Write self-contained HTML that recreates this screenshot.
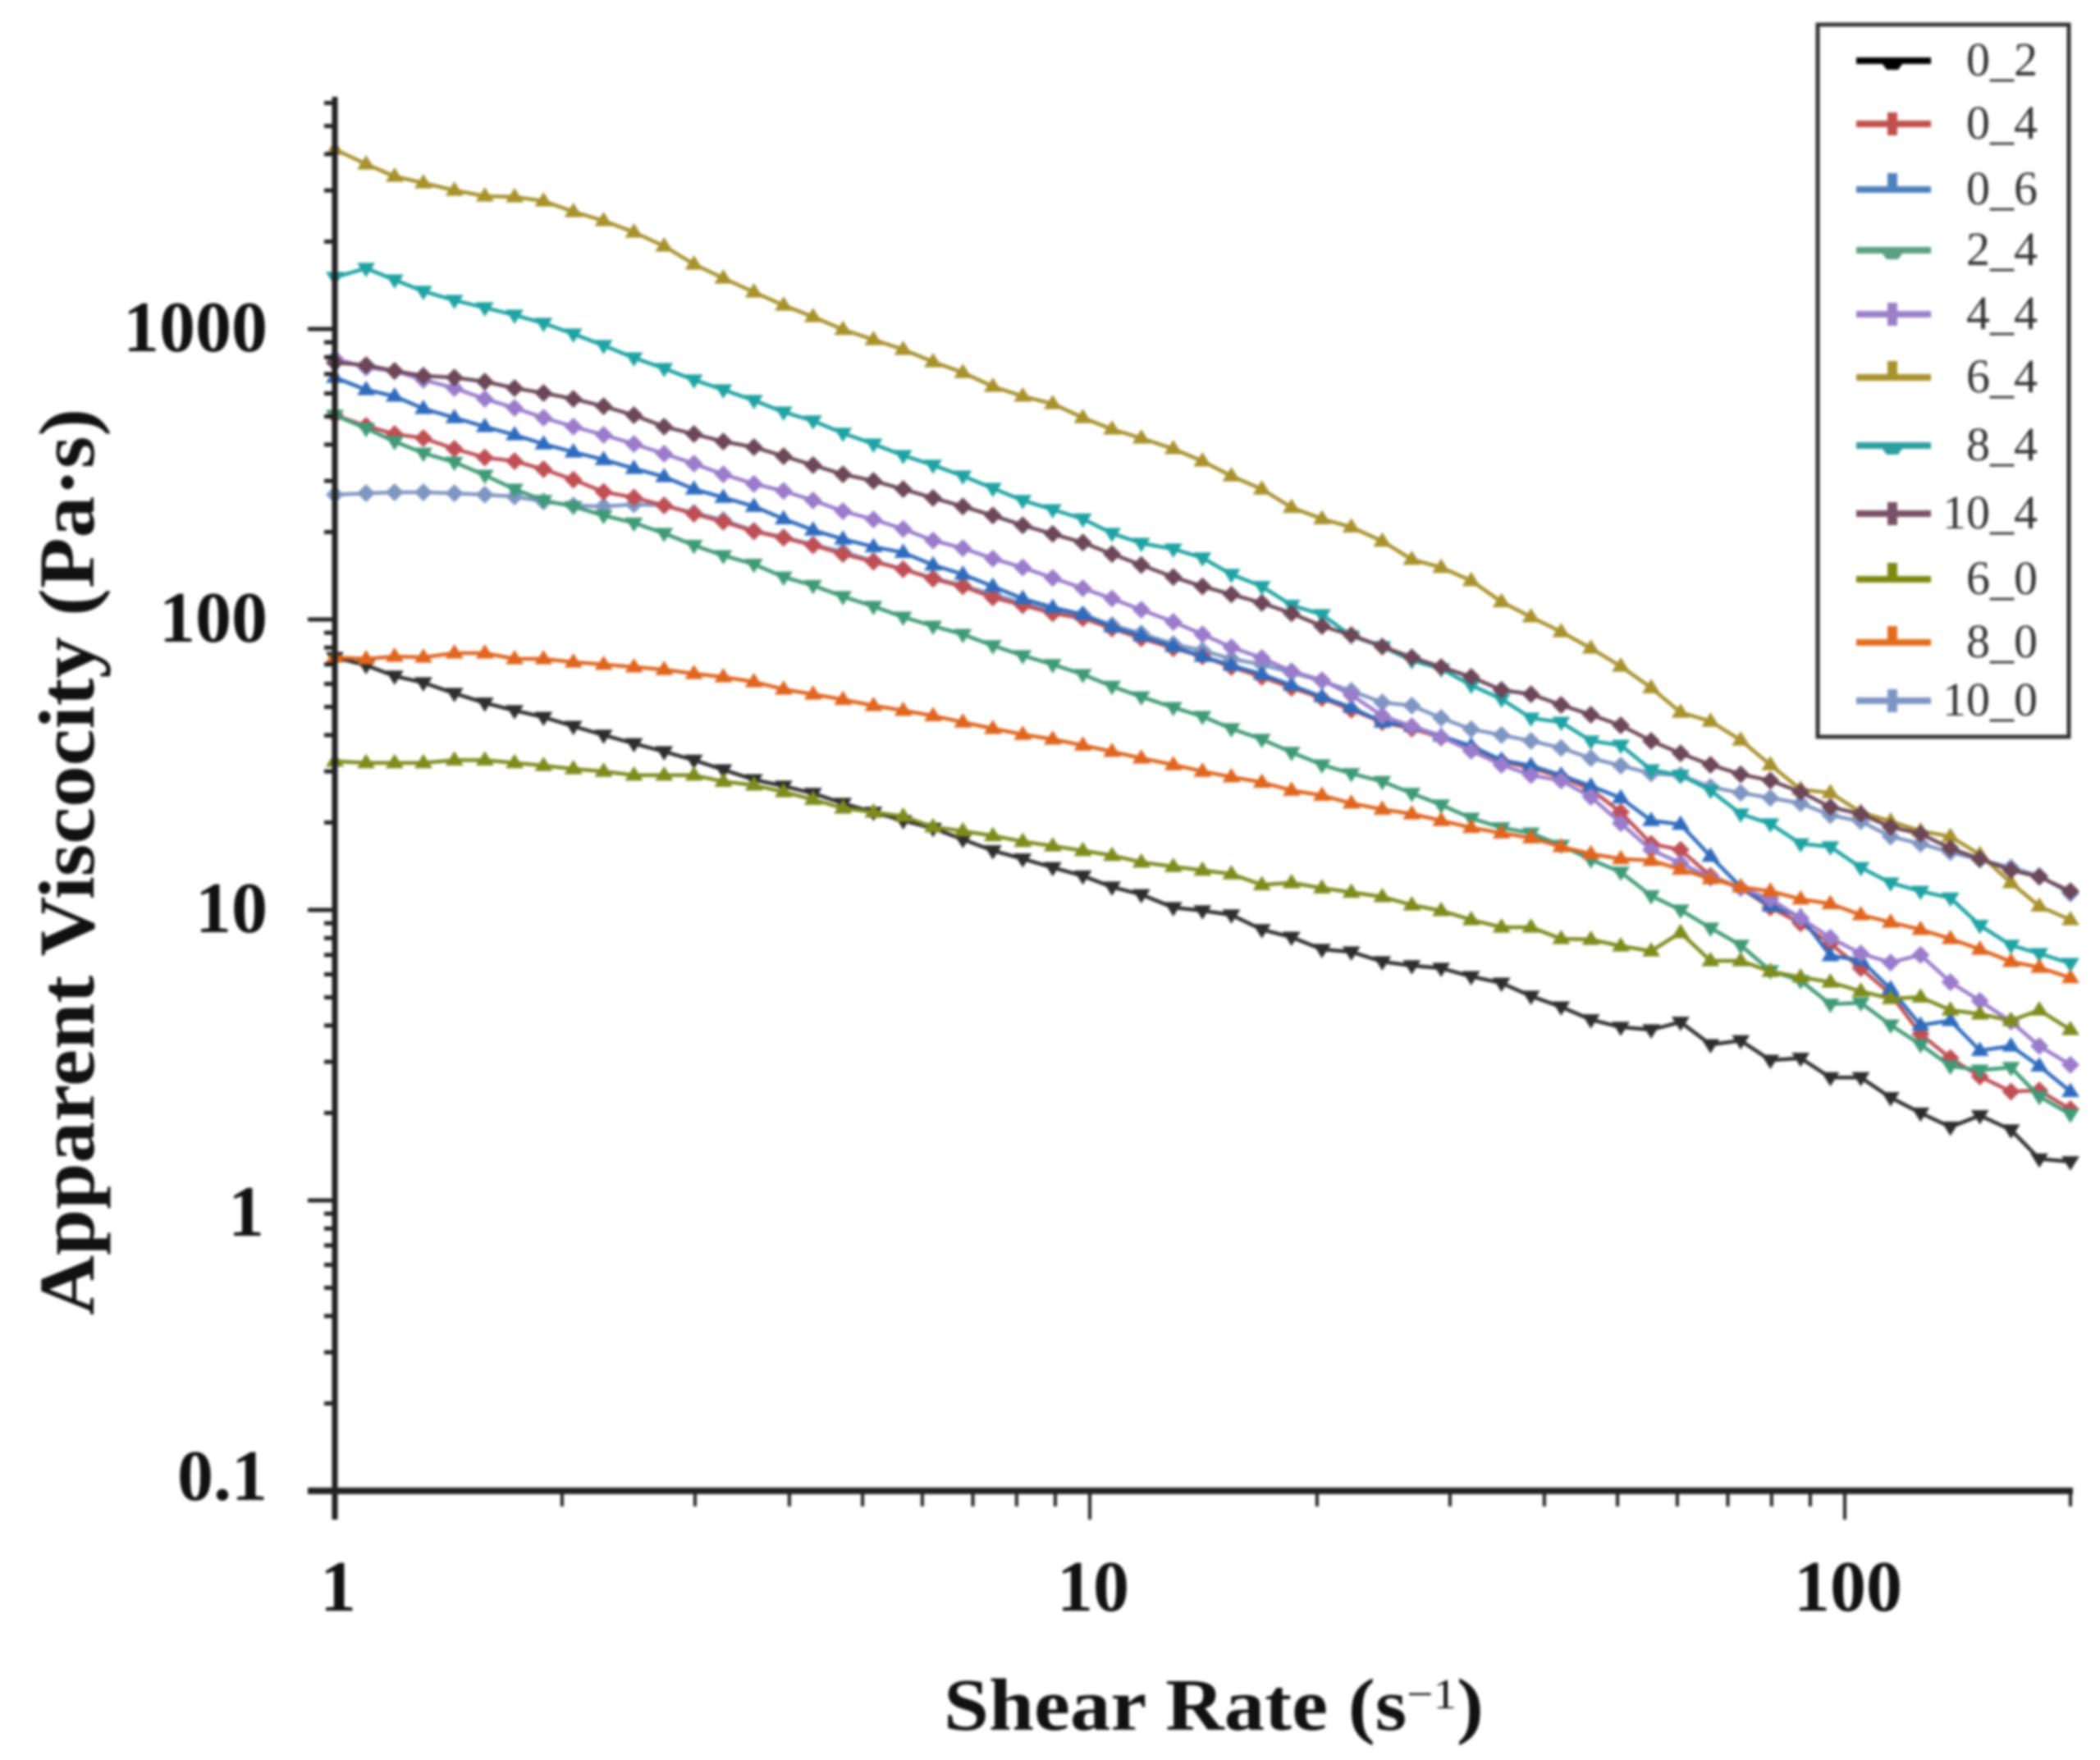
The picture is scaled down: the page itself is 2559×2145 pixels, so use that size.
<!DOCTYPE html>
<html lang="en">
<head>
<meta charset="utf-8">
<title>Apparent Viscosity vs Shear Rate</title>
<style>
html,body{margin:0;padding:0;background:#fff;width:2559px;height:2145px;overflow:hidden}
svg{display:block;filter:blur(1.5px)}
text{font-family:"Liberation Serif",serif}
</style>
</head>
<body>
<svg id="chart" xmlns="http://www.w3.org/2000/svg" width="2559" height="2145" viewBox="0 0 2559 2145">
  <rect width="2559" height="2145" fill="#fff"/>
  <g id="series-layer"></g>
  <g id="axis-layer"></g>
  <text transform="translate(114,1603) rotate(-90)" font-size="96" font-weight="700" fill="#111" textLength="1105" lengthAdjust="spacingAndGlyphs">Apparent Viscocity (Pa·s)</text>
  <text x="1150" y="2108" font-size="90" font-weight="700" fill="#111" textLength="658" lengthAdjust="spacingAndGlyphs">Shear Rate (s<tspan font-size="52" font-weight="400" dy="-26">−1</tspan><tspan dy="26">)</tspan></text>
  <g id="legend">
    <rect x="2215" y="30" width="306" height="868" fill="#fff" stroke="#333" stroke-width="5"/>
  </g>
</svg>
<script>
const shearRates = [1,1.10,1.20,1.31,1.44,1.58,1.73,1.89,2.07,2.27,2.49,2.73,2.99,3.27,3.59,3.93,4.30,4.71,5.17,5.66,6.20,6.79,7.44,8.15,8.93,9.79,10.7,11.7,12.9,14.1,15.4,16.9,18.5,20.3,22.2,24.4,26.7,29.2,32.0,35.1,38.4,42.1,46.1,50.5,55.4,60.6,66.4,72.8,79.7,87.4,95.7,105,115,126,138,151,166,181,199];

const viscosity0_2 = [74.1,69.5,63.9,60.6,55.7,51.6,48.6,46.1,42.9,40.0,37.4,35.1,32.8,30.4,28.1,26.7,25.2,23.3,21.7,20.3,19.1,17.5,16.0,15.0,14.0,13.1,12.0,11.3,10.2,9.94,9.62,8.56,8.06,7.32,7.17,6.64,6.43,6.30,5.90,5.60,5.05,4.64,4.19,3.95,3.87,4.11,3.44,3.55,3.04,3.09,2.65,2.65,2.26,2.00,1.79,1.96,1.75,1.39,1.36];
const viscosity0_4 = [505,464,435,421,387,361,351,329,303,275,263,247,231,217,201,191,180,168,158,149,138,130,119,112,105,101,93.1,86.1,79.6,74.6,68.6,63.4,58.2,53.6,48.9,44.3,42.1,39.2,36.1,32.5,30.8,28.7,26.0,21.7,16.9,16.1,13.1,11.9,10.2,9.00,7.66,6.30,5.13,3.74,3.09,2.67,2.37,2.39,2.06];
const viscosity0_6 = [681,618,587,532,495,461,432,402,377,355,331,310,281,263,245,222,203,189,178,170,154,143,130,118,110,104,94.3,87.8,80.7,74.6,69.5,64.7,59.4,54.2,49.8,44.3,42.9,39.7,36.7,32.8,31.4,29.1,26.7,24.3,20.3,19.7,15.3,12.0,10.3,9.49,6.95,6.72,5.35,4.01,4.16,3.28,3.40,2.90,2.37];
const viscosity2_4 = [505,455,410,374,348,314,281,257,245,228,215,198,180,166,155,140,131,120,111,102,94.9,88.9,81.3,75.1,70.0,64.7,58.9,54.2,49.8,46.4,42.1,38.7,34.9,31.6,29.5,27.7,25.2,23.0,20.7,19.2,18.4,16.7,14.9,13.5,11.2,10.0,8.67,7.56,6.18,5.71,4.74,4.79,4.02,3.44,2.90,2.81,2.87,2.28,1.98];
const viscosity4_4 = [791,737,717,668,626,575,535,495,461,432,402,372,344,316,293,277,257,236,221,205,187,176,162,151,139,128,118,108,98.1,88.9,80.2,73.7,66.4,61.8,55.0,46.6,42.9,39.4,35.3,31.6,29.1,27.9,24.5,19.9,16.1,14.5,12.9,11.9,10.9,9.37,8.02,7.08,6.59,7.00,5.64,4.86,4.13,3.40,2.93];
const viscosity6_4 = [4155,3697,3353,3182,3002,2869,2850,2759,2535,2360,2154,1929,1672,1497,1340,1207,1102,996,919,850,771,708,634,587,553,495,452,421,387,351,312,281,243,222,208,186,161,151,136,115,102,90.7,79.6,69.0,58.2,47.9,44.6,38.4,31.6,26.0,25.3,21.7,20.2,18.7,17.9,15.5,12.4,10.3,9.25];
const viscosity8_4 = [1507,1618,1477,1349,1256,1184,1117,1047,962,878,796,732,668,618,568,518,483,438,402,367,340,312,283,257,239,222,198,183,175,163,143,130,112,104,87.8,80.7,72.2,67.7,59.4,53.2,45.8,44.3,38.2,36.9,30.4,29.1,25.8,21.4,19.8,16.9,16.5,14.0,12.4,11.6,11.0,8.85,7.56,7.08,6.55];
const viscosity10_4 = [766,751,717,690,681,659,626,602,575,542,505,461,435,410,392,365,340,316,300,281,262,245,228,211,197,184,168,154,140,130,122,114,105,94.9,88.4,80.7,74.1,68.6,63.4,57.2,55.3,50.8,47.0,43.2,38.2,34.6,31.6,29.3,27.9,25.5,22.6,21.4,19.3,18.3,16.3,15.0,13.7,13.0,11.6];
const viscosity6_0 = [32.5,32.1,32.1,32.1,32.8,32.8,32.1,31.4,30.6,30.0,29.1,29.1,29.1,27.7,26.9,25.5,24.0,22.4,21.7,21.0,19.3,18.7,18.0,17.2,16.6,16.0,15.4,14.6,14.1,13.7,13.3,12.2,12.4,11.9,11.5,11.1,10.4,9.94,9.25,8.72,8.72,7.96,7.91,7.51,7.22,8.35,6.68,6.68,6.14,5.87,5.64,5.25,4.95,5.01,4.52,4.38,4.16,4.52,3.87];
const viscosity8_0 = [74.1,73.2,74.6,74.1,76.6,76.6,73.2,73.2,71.3,70.0,68.6,67.2,65.1,63.4,61.0,57.5,55.3,53.0,50.5,48.6,46.6,44.3,42.1,40.2,38.7,36.9,35.1,33.3,31.6,30.0,28.7,27.5,25.8,24.8,23.3,22.2,21.4,20.3,19.2,18.4,17.7,16.5,15.6,15.0,14.8,13.8,12.8,12.0,11.6,10.9,10.5,9.62,9.07,8.56,7.96,7.32,6.64,6.34,5.84];
const viscosity10_0 = [269,272,274,274,272,269,265,255,247,245,249,247,233,220,202,192,181,171,159,149,139,131,122,114,107,104,95.6,89.5,82.3,78.2,73.2,70.0,65.6,61.4,56.8,51.8,50.5,45.8,41.9,40.0,38.2,36.1,33.3,31.4,29.5,29.1,26.5,25.3,24.3,23.3,21.2,20.2,17.9,16.9,15.8,14.9,14.0,13.1,11.4];

const seriesNames = ["0_2","0_4","0_6","2_4","4_4","6_4","8_4","10_4","6_0","8_0","10_0"];
const seriesValues = [viscosity0_2,viscosity0_4,viscosity0_6,viscosity2_4,viscosity4_4,viscosity6_4,viscosity8_4,viscosity10_4,viscosity6_0,viscosity8_0,viscosity10_0];
const drawOrder = ["10_0","0_2","0_4","0_6","2_4","4_4","6_4","8_4","10_4","6_0","8_0"];
const lineColors = {"0_2":"#2e2e2e","0_4":"#bf4f55","0_6":"#2f6bbd","2_4":"#3f9a78","4_4":"#9a7ccb","6_4":"#a8922c","8_4":"#1fa3a3","10_4":"#6c4757","6_0":"#7d8c1c","8_0":"#e0651f","10_0":"#7f96c2"};
const legendColors = {"0_2":"#000000","0_4":"#c0504d","0_6":"#4f81bd","2_4":"#5aa083","4_4":"#9b80c8","6_4":"#a8922c","8_4":"#2f9e9e","10_4":"#7a5065","6_0":"#7d8a10","8_0":"#e36c1c","10_0":"#7f96c5"};
const markerKinds = {"0_2":"down","0_4":"diamond","0_6":"up","2_4":"down","4_4":"diamond","6_4":"up","8_4":"down","10_4":"diamond","6_0":"up","8_0":"up","10_0":"diamond"};

const yMajorTicks = [1000,100,10,1,0.1];
const yMajorLabels = ["1000","100","10","1","0.1"];
const yMinorTicks = [6000,5000,4000,3000,2000,900,800,700,600,500,400,300,200,90,80,70,60,50,40,30,20,9,8,7,6,5,4,3,2,0.9,0.8,0.7,0.6,0.5,0.4,0.3,0.2];
const xMajorTicks = [1,10,100];
const xMajorLabels = ["1","10","100"];
const xMinorTicks = [2,3,4,5,6,7,8,9,20,30,40,50,60,70,80,90,199];

const SVGNS = "http://www.w3.org/2000/svg";
function xScale(v){ return 408 + 920 * Math.log10(v); }
function yScale(v){ return 401 + 354 * (3 - Math.log10(v)); }
function yLabelNudge(v){
  if (v === 1) return 16;
  if (v === 0.1) return -16;
  return 0;
}

function markerPath(cx, cy, kind, r){
  if (kind === "down") return "M"+(cx-r)+" "+(cy-r*0.6)+"L"+(cx+r)+" "+(cy-r*0.6)+"L"+cx+" "+(cy+r)+"Z";
  if (kind === "up") return "M"+(cx-r)+" "+(cy+r*0.6)+"L"+(cx+r)+" "+(cy+r*0.6)+"L"+cx+" "+(cy-r)+"Z";
  return "M"+cx+" "+(cy-r)+"L"+(cx+r)+" "+cy+"L"+cx+" "+(cy+r)+"L"+(cx-r)+" "+cy+"Z";
}
function legendMarkerPath(cx, cy, kind){
  if (kind === "down") return "M"+(cx-15)+" "+cy+"L"+(cx+15)+" "+cy+"L"+(cx+7)+" "+(cy+11)+"L"+(cx-7)+" "+(cy+11)+"Z";
  if (kind === "up") return "M"+(cx-6)+" "+cy+"L"+(cx+6)+" "+cy+"L"+(cx+6)+" "+(cy-20)+"L"+(cx-6)+" "+(cy-20)+"Z";
  return "M"+(cx-6)+" "+(cy-14)+"L"+(cx+6)+" "+(cy-14)+"L"+(cx+6)+" "+(cy+14)+"L"+(cx-6)+" "+(cy+14)+"Z";
}

const seriesLayer = document.getElementById("series-layer");
drawOrder.forEach(function(name){
  const values = seriesValues[seriesNames.indexOf(name)];
  const group = document.createElementNS(SVGNS, "g");
  
  
  const line = document.createElementNS(SVGNS, "path");
  
  
  let d = "";
  values.forEach(function(v, i){
    d += (i ? "L" : "M") + xScale(shearRates[i]).toFixed(1) + " " + yScale(v).toFixed(1);
  });
  line.setAttribute("d", d);
  line.setAttribute("fill", "none");
  line.setAttribute("stroke", lineColors[name]);
  line.setAttribute("stroke-width", "4.5");
  line.setAttribute("stroke-linejoin", "round");
  group.appendChild(line);
  values.forEach(function(v, i){
    const mark = document.createElementNS(SVGNS, "path");
    
    
    mark.setAttribute("d", markerPath(xScale(shearRates[i]), yScale(v), markerKinds[name], 11));
    mark.setAttribute("fill", lineColors[name]);
    group.appendChild(mark);
  });
  seriesLayer.appendChild(group);
});

const axisLayer = document.getElementById("axis-layer");
function addLine(x1, y1, x2, y2, w, name){
  const el = document.createElementNS(SVGNS, "line");
  
  
  el.setAttribute("x1", x1);
  el.setAttribute("y1", y1);
  el.setAttribute("x2", x2);
  el.setAttribute("y2", y2);
  el.setAttribute("stroke", "#222");
  el.setAttribute("stroke-width", w);
  axisLayer.appendChild(el);
}
function addText(x, y, str, size, weight, anchor, parent, name, fill){
  const el = document.createElementNS(SVGNS, "text");
  
  
  el.setAttribute("x", x);
  el.setAttribute("y", y);
  el.setAttribute("font-size", size);
  el.setAttribute("font-weight", weight);
  el.setAttribute("text-anchor", anchor);
  el.setAttribute("fill", fill);
  el.textContent = str;
  parent.appendChild(el);
}
addLine(408, 118, 408, 1852, 7, "y-axis-line");
addLine(375, 1817, 2526, 1817, 8, "x-axis-line");
yMajorTicks.forEach(function(v, i){
  addLine(375, yScale(v), 408, yScale(v), 5, "y-major-tick");
  addText(v === 1 ? 322 : 326, yScale(v) + 27 + yLabelNudge(v), yMajorLabels[i], 88, 700, "end", axisLayer, "y-tick-label", "#111");
});
yMinorTicks.forEach(function(v){
  addLine(395, yScale(v), 408, yScale(v), 5, "y-minor-tick");
});
xMajorTicks.forEach(function(v, i){
  addLine(xScale(v), 1817, xScale(v), 1852, 4, "x-major-tick");
  addText(xScale(v) + 4, 1963, xMajorLabels[i], 88, 700, "middle", axisLayer, "x-tick-label", "#111");
});
xMinorTicks.forEach(function(v){
  addLine(xScale(v), 1817, xScale(v), 1836, 4, "x-minor-tick");
});

const legend = document.getElementById("legend");
const legendRowY = [74,151,231,305,383,460,543,626,706,783,854];
seriesNames.forEach(function(name, i){
  const rowY = legendRowY[i];
  const sw = document.createElementNS(SVGNS, "line");
  
  
  sw.setAttribute("x1", 2262);
  sw.setAttribute("x2", 2353);
  sw.setAttribute("y1", rowY);
  sw.setAttribute("y2", rowY);
  sw.setAttribute("stroke", legendColors[name]);
  sw.setAttribute("stroke-width", "8");
  legend.appendChild(sw);
  const mk = document.createElementNS(SVGNS, "path");
  
  
  mk.setAttribute("d", legendMarkerPath(2306, rowY, markerKinds[name]));
  mk.setAttribute("fill", legendColors[name]);
  legend.appendChild(mk);
  addText(2483, rowY + 18, name, 58, 400, "end", legend, "legend-label-" + name, "#333");
});
</script>
</body>
</html>
